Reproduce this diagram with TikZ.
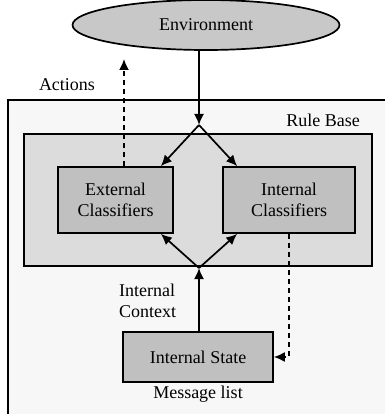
\documentclass[tikz,border=0pt]{standalone}
\usepackage{fontspec}
\setmainfont{Liberation Serif}
\usetikzlibrary{shapes.geometric,arrows.meta}
\definecolor{outerfill}{HTML}{F7F7F7}
\definecolor{innerfill}{HTML}{DCDCDC}
\definecolor{boxfill}{HTML}{C0C0C0}
\definecolor{ellfill}{HTML}{C8C8C8}
\begin{document}
\begin{tikzpicture}[x=1pt,y=-1pt,
  every node/.style={font=\fontsize{18}{21}\selectfont, inner sep=0pt},
  lw/.style={line width=1.7pt},
  clsbox/.style={draw, lw, fill=boxfill, align=center},
  arr/.style={lw, -{Latex[length=11pt,width=10pt]}},
  dsh/.style={arr, dash pattern=on 5pt off 4pt}]
\useasboundingbox (0,0) rectangle (385,414);
% outer frame
\fill[outerfill] (8,100) rectangle (385,414);
\draw[lw] (8,414) -- (8,100) -- (385,100);
% rule base
\node[draw, lw, fill=innerfill, minimum width=348, minimum height=132] (rb) at (198,200) {};
\node[anchor=east] (rbl) at (360,120) {Rule Base};
% environment
\node[ellipse, draw, lw, fill=ellfill, minimum width=267, minimum height=50] (env) at (206,25) {Environment};
% classifiers
\node[clsbox, minimum width=115, minimum height=66] (ext) at (115.5,200) {External\\Classifiers};
\node[clsbox, minimum width=132, minimum height=66] (int) at (289,200) {Internal\\Classifiers};
% internal state
\node[clsbox, minimum width=150, minimum height=50] (is) at (198,357) {Internal State};
\node (ml) at (198,394) {Message list};
\node[align=left, anchor=west] (ic) at (119,301) {Internal\\Context};
\node (act) at (67,85) {Actions};
% coordinates
\coordinate (top) at (199,125);
\coordinate (bot) at (199,268);
\coordinate (acttip) at (124,59);
% arrows
\draw[arr] (env.south -| top) -- (top);
\draw[arr] (top) -- ([xshift=-13pt]ext.north east);
\draw[arr] (top) -- ([xshift=15pt]int.north west);
\draw[arr] (is.north -| bot) -- (bot);
\draw[arr] (bot) -- ([xshift=-13pt]ext.south east);
\draw[arr] (bot) -- ([xshift=15pt]int.south west);
\draw[dsh] (ext.north -| acttip) -- (acttip);
\draw[dsh] (int.south) |- (is.east);
\end{tikzpicture}
\end{document}
